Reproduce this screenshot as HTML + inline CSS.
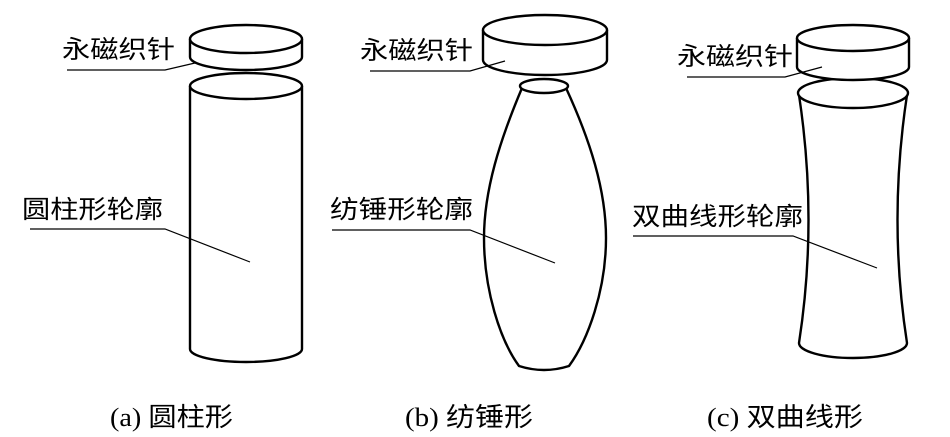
<!DOCTYPE html>
<html><head><meta charset="utf-8"><style>
html,body{margin:0;padding:0;background:#fff;}
svg{display:block;}
text{font-family:"Liberation Serif","Noto Sans CJK SC",serif;fill:#000;}
</style></head><body>
<svg width="950" height="437" viewBox="0 0 950 437" xmlns="http://www.w3.org/2000/svg">
<g fill="#fff" stroke="#000" stroke-width="2.4">
<!-- (a) -->
<path d="M190 86 L190 349 A56 13 0 0 0 302 349 L302 86"/>
<ellipse cx="246" cy="86" rx="56" ry="13"/>
<path d="M190 39 L190 57 A56 13 0 0 0 302 57 L302 39"/>
<ellipse cx="246" cy="39" rx="56" ry="14"/>
<!-- (b) -->
<path d="M522 88 C500 140 484 190 484 238 C484 290 500 340 519 366 Q544 374 569 366 C588 340 606 290 606 238 C606 190 590 140 566 88 Z"/>
<ellipse cx="544" cy="86" rx="24" ry="7"/>
<path d="M483 30 L483 60 A62 15 0 0 0 607 60 L607 30"/>
<ellipse cx="545" cy="30" rx="62" ry="15"/>
<!-- (c) -->
<path d="M799 95 Q818 220 799 343 A54 15 0 0 0 907 343 Q888 220 907 95"/>
<ellipse cx="853" cy="93" rx="55" ry="15"/>
<path d="M797 38 L797 67 A56 13 0 0 0 909 67 L909 38"/>
<ellipse cx="853" cy="38" rx="56" ry="13"/>
</g>
<g fill="none" stroke="#000" stroke-width="1.2">
<polyline points="67,70 165,70 195,63"/>
<polyline points="30,229 165,229 250,262"/>
<polyline points="370,71 470,71 505,61"/>
<polyline points="332,230 470,230 555,263"/>
<polyline points="687,77 785,77 822,67"/>
<polyline points="633,236 793,236 877,268"/>
</g>
<g font-size="25">
<text x="62" y="58" textLength="113" lengthAdjust="spacingAndGlyphs">永磁织针</text>
<text x="22" y="218" textLength="141" lengthAdjust="spacingAndGlyphs">圆柱形轮廓</text>
<text x="360" y="59" textLength="113" lengthAdjust="spacingAndGlyphs">永磁织针</text>
<text x="330" y="218" textLength="143" lengthAdjust="spacingAndGlyphs">纺锤形轮廓</text>
<text x="677" y="65" textLength="116" lengthAdjust="spacingAndGlyphs">永磁织针</text>
<text x="632" y="225" textLength="171" lengthAdjust="spacingAndGlyphs">双曲线形轮廓</text>
</g>
<g font-size="26">
<text x="110" y="426" textLength="123" lengthAdjust="spacingAndGlyphs">(a) 圆柱形</text>
<text x="405" y="426" textLength="128" lengthAdjust="spacingAndGlyphs">(b) 纺锤形</text>
<text x="707" y="426" textLength="156" lengthAdjust="spacingAndGlyphs">(c) 双曲线形</text>
</g>
</svg>
</body></html>
